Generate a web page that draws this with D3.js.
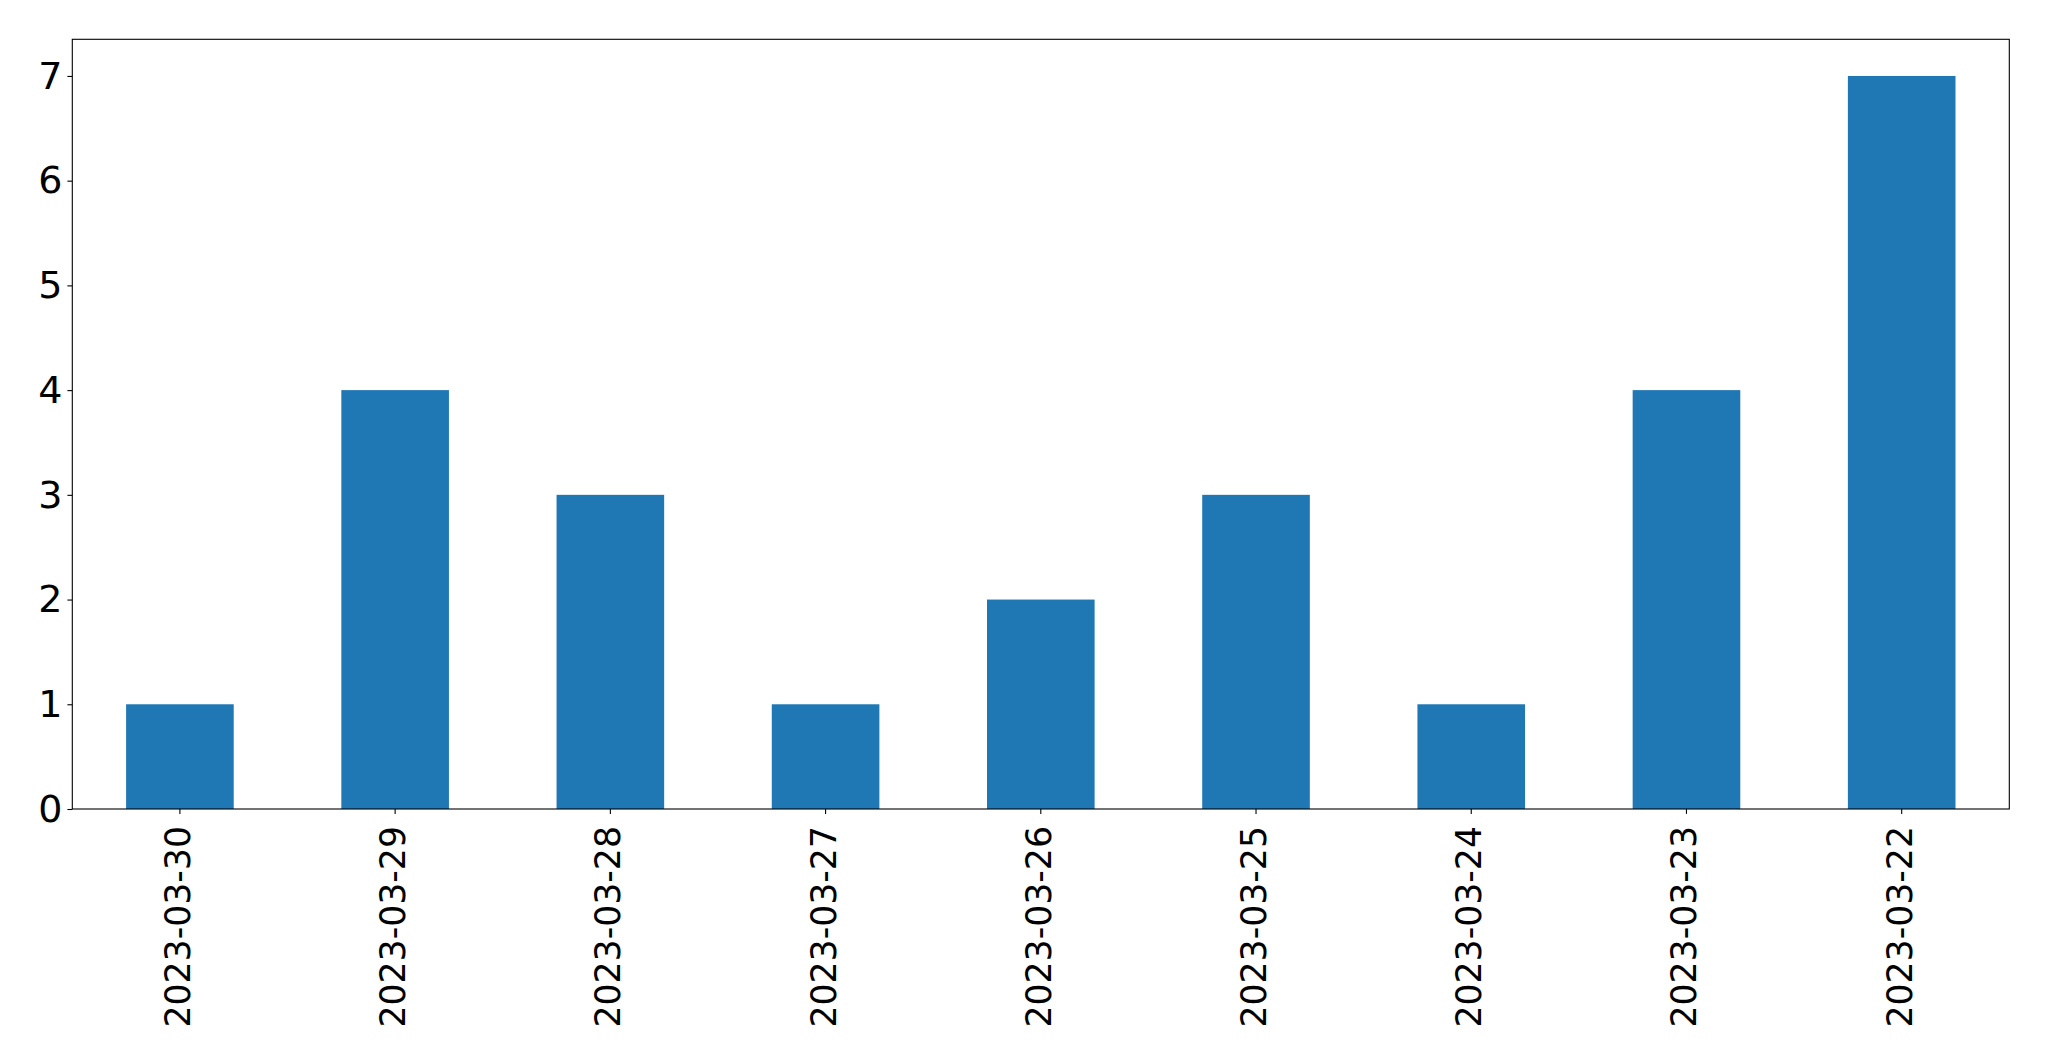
<!DOCTYPE html>
<html>
<head>
<meta charset="utf-8">
<script src="https://cdn.jsdelivr.net/npm/d3@7"></script>
<style>
  html, body { margin: 0; padding: 0; background: #fff; }
  svg { display: block; }
  text { font-family: "DejaVu Sans", sans-serif; fill: #000; }
</style>
</head>
<body>
<svg id="chart" width="2049" height="1061"></svg>
<script>
const categories = ["2023-03-30","2023-03-29","2023-03-28","2023-03-27","2023-03-26","2023-03-25","2023-03-24","2023-03-23","2023-03-22"];
const values = [1, 4, 3, 1, 2, 3, 1, 4, 7];
const yTicks = [0, 1, 2, 3, 4, 5, 6, 7];

const W = 2049, H = 1061;
const margin = { left: 72.3, right: W - 2009.3, top: 39.3, bottom: H - 809 };
const svg = d3.select("#chart");
const innerW = W - margin.left - margin.right;
const innerH = H - margin.top - margin.bottom;

const x = d3.scaleBand().domain(categories).range([margin.left, margin.left + innerW])
  .paddingInner(0.5).paddingOuter(0.25);
const y = d3.scaleLinear().domain([0, 7 * 1.05]).range([margin.top + innerH, margin.top]);

const xFont = 34.7, yFont = 38;

svg.append("g").selectAll("rect").data(values).join("rect")
  .attr("x", (d, i) => x(categories[i]))
  .attr("y", d => y(d))
  .attr("width", x.bandwidth())
  .attr("height", d => y(0) - y(d))
  .attr("fill", "#1f77b4");

// frame
svg.append("rect")
  .attr("x", margin.left).attr("y", margin.top)
  .attr("width", innerW).attr("height", innerH)
  .attr("fill", "none").attr("stroke", "#000").attr("stroke-width", 1.1);

// y axis
const yAxis = svg.append("g").attr("transform", `translate(${margin.left},0)`)
  .call(d3.axisLeft(y).tickValues(yTicks).tickFormat(d3.format("d")).tickSize(4.9).tickPadding(4.9));
yAxis.select(".domain").remove();
yAxis.selectAll(".tick line").attr("stroke", "#000").attr("stroke-width", 1.1);
yAxis.selectAll(".tick text").style("font-size", yFont + "px").style("font-family", "DejaVu Sans").attr("fill", "#000");

// x axis
const xAxis = svg.append("g").attr("transform", `translate(0,${margin.top + innerH})`)
  .call(d3.axisBottom(x).tickSize(4.9).tickPadding(0));
xAxis.select(".domain").remove();
xAxis.selectAll(".tick line").attr("stroke", "#000").attr("stroke-width", 1.1);
xAxis.selectAll(".tick text")
  .style("font-size", xFont + "px").style("font-family", "DejaVu Sans").attr("fill", "#000")
  .attr("y", 0).attr("dy", null)
  .attr("transform", "translate(-2,17) rotate(-90)")
  .attr("text-anchor", "end")
  .attr("dominant-baseline", "central");
</script>
</body>
</html>
